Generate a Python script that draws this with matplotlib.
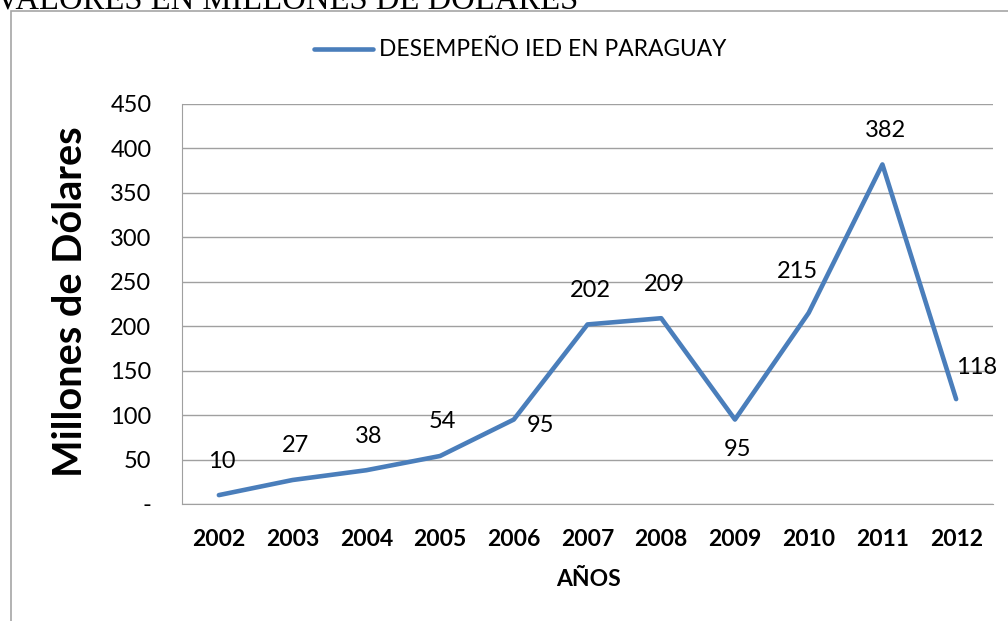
import matplotlib.pyplot as plt
import numpy as np

years = ["2002", "2003", "2004", "2005", "2006", "2007", "2008", "2009", "2010", "2011", "2012"]
ied = [10, 27, 38, 54, 95, 202, 209, 95, 215, 382, 118]
yticks = [0, 50, 100, 150, 200, 250, 300, 350, 400, 450]
ytick_labels = ["-", "50", "100", "150", "200", "250", "300", "350", "400", "450"]

plt.rcParams['font.family'] = ['Lato', 'DejaVu Sans']

W, H = 1008, 621
fig = plt.figure(figsize=(W / 100, H / 100), dpi=100)

# outer chart frame (cut off on the right and bottom)
frame = plt.Rectangle((11 / W, -0.1), 1.2, 1 - 11 / H + 0.1, transform=fig.transFigure,
                      fill=False, edgecolor="#a6a6a6", lw=1.2)
fig.patches.append(frame)

# clipped heading above the chart
fig.text(-4 / W, 1 - 10 / H, "VALORES EN MILLONES DE DÓLARES", family="Liberation Serif",
         fontsize=23.5, va="baseline", ha="left")

ax = fig.add_axes([182 / W, 1 - 504 / H, (993 - 182) / W, (504 - 104) / H])
x = np.arange(len(years))
line, = ax.plot(x, ied, color="#4a7ebb", lw=3.3, solid_capstyle="round",
                label="DESEMPEÑO IED EN PARAGUAY")

ax.set_xlim(-0.5, len(years) - 0.5)
ax.set_ylim(0, 450)
ax.set_yticks(yticks)
ax.set_yticklabels(ytick_labels, fontsize=17)
ax.set_xticks(x)
ax.set_xticklabels(years, fontsize=16.5, fontweight="bold")
ax.tick_params(length=0)
ax.tick_params(axis="y", pad=22)
ax.tick_params(axis="x", pad=18)
ax.grid(axis="y", color="#a0a0a0", lw=1)
ax.set_axisbelow(True)
for s in ["top", "right"]:
    ax.spines[s].set_visible(False)
for s in ["left", "bottom"]:
    ax.spines[s].set_color("#a0a0a0")

fig.text(71 / W, 1 - 302 / H, "Millones de Dólares", fontsize=28.5, fontweight="bold",
         rotation=90, ha="center", va="center")
fig.text(588 / W, 1 - 580 / H, "AÑOS", fontsize=16.5, fontweight="bold",
         ha="center", va="center")

# data labels: (dx, dy in points, ha, va)
offsets = {0: (2, 17, "center", "bottom"), 1: (2, 17, "center", "bottom"),
           2: (2, 17, "center", "bottom"), 3: (2, 17, "center", "bottom"),
           4: (9, -4, "left", "center"), 5: (2, 17, "center", "bottom"),
           6: (2, 17, "center", "bottom"), 7: (2, -14, "center", "top"),
           8: (-8, 22, "center", "bottom"), 9: (2, 17, "center", "bottom"),
           10: (0, 15, "left", "bottom")}
for i, v in enumerate(ied):
    dx, dy, ha, va = offsets[i]
    ax.annotate(str(v), (i, v), xytext=(dx, dy), textcoords="offset points",
                ha=ha, va=va, fontsize=17)

leg = fig.legend(handles=[line], loc="center", bbox_to_anchor=(520 / W, 1 - 50 / H),
                 frameon=False, fontsize=16.4, handlelength=2.6, handletextpad=0.25,
                 borderpad=0, borderaxespad=0)

fig.savefig("out.png", dpi=100)
